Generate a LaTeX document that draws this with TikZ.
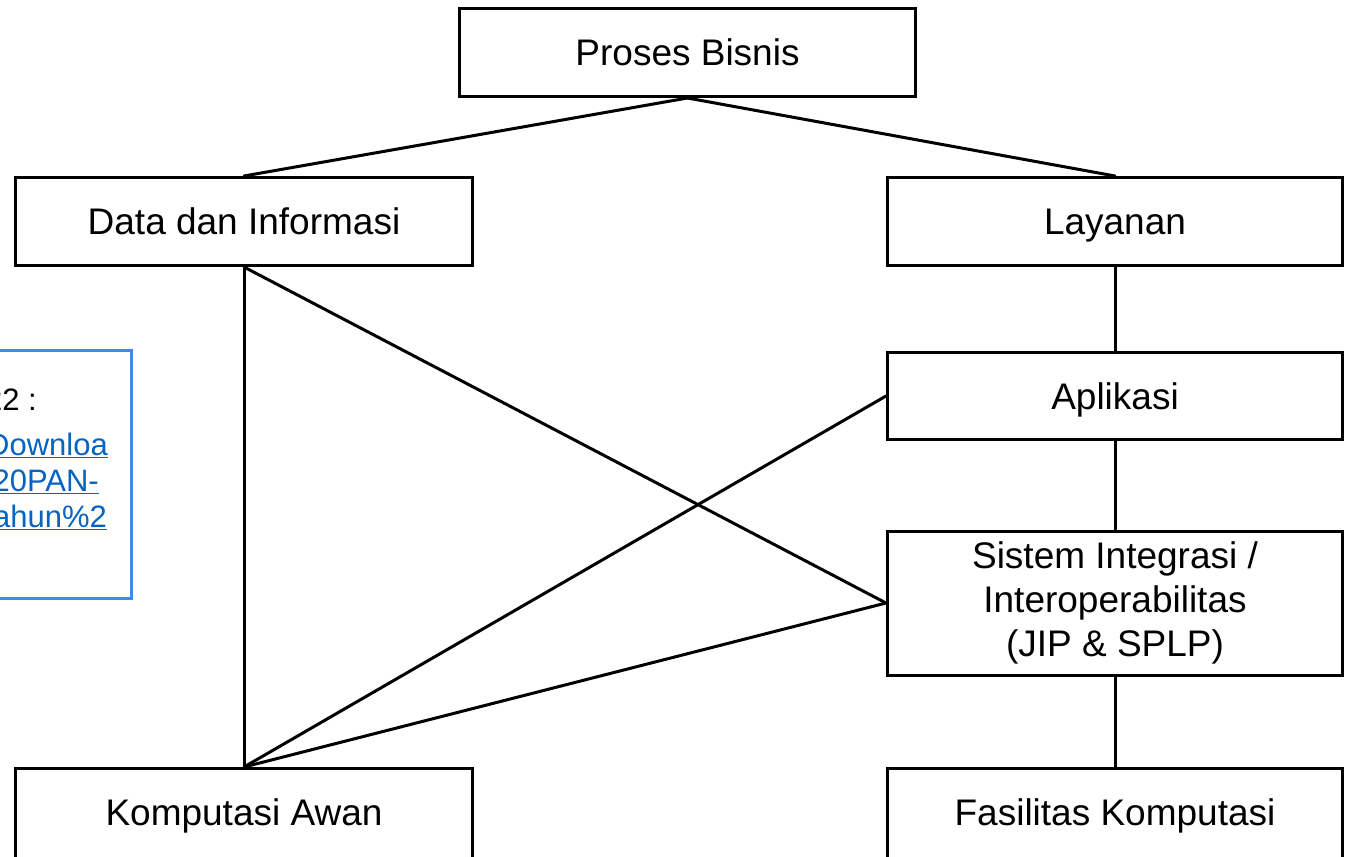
\documentclass[tikz,border=0pt]{standalone}
\usepackage{fontspec}
\setmainfont{Liberation Sans}
\definecolor{linkblue}{RGB}{5,99,193}
\definecolor{noteblue}{RGB}{74,134,232}
\begin{document}
\begin{tikzpicture}[x=1pt,y=-1pt,
  box/.style={draw=black, line width=3pt, rectangle, inner sep=0pt,
    font=\fontsize{37}{44}\selectfont, align=center},
  oneline/.style={text height=34pt, text depth=7.5pt},
  conn/.style={line width=3pt, line cap=round},
  notebox/.style={draw=noteblue, line width=3pt, rectangle, inner sep=0pt},
  notetext/.style={font=\fontsize{31}{36}\selectfont, inner sep=0pt, anchor=base east},
  link/.style={notetext, text=linkblue}]
\useasboundingbox (0,0) rectangle (1345,857);
\clip (0,0) rectangle (1345,857);

% note box (clipped at the left edge)
\node[notebox, minimum width=150pt, minimum height=248pt] (note) at (56.5,474.5) {};
\node[notetext] (n1) at (37,410) {2022 :};
\node[link] (n2) at (108,455) {\underline{Downloa}};
\node[link] (n3) at (99,491) {\underline{20PAN-}};
\node[link] (n4) at (107,527) {\underline{Tahun\%2}};

% boxes
\node[box, oneline, minimum width=456pt, minimum height=88pt] (proses) at (687.5,52.5) {Proses Bisnis};
\node[box, oneline, minimum width=457pt, minimum height=88pt] (data) at (244,221.5) {Data dan Informasi};
\node[box, oneline, minimum width=455pt, minimum height=88pt] (layanan) at (1115,221.5) {Layanan};
\node[box, oneline, minimum width=455pt, minimum height=87pt] (aplikasi) at (1115,396) {Aplikasi};
\node[box, minimum width=455pt, minimum height=144pt] (sistem) at (1115,603) {Sistem Integrasi /\\Interoperabilitas\\(JIP \& SPLP)};
\node[box, minimum width=457pt, minimum height=120pt] (komp) at (244,828.5) {};
\node[box, oneline, draw=none] (kompt) at (244,812.5) {Komputasi Awan};
\node[box, minimum width=455pt, minimum height=120pt] (fasil) at (1115,828.5) {};
\node[box, oneline, draw=none] (fasilt) at (1115,812.5) {Fasilitas Komputasi};

% connectors
\draw[conn] (proses.south) -- (data.north);
\draw[conn] (proses.south) -- (layanan.north);
\draw[conn] (data.south) -- (komp.north);
\draw[conn] (data.south) -- (sistem.west);
\draw[conn] (layanan.south) -- (aplikasi.north);
\draw[conn] (aplikasi.south) -- (sistem.north);
\draw[conn] (sistem.south) -- (fasil.north);
\draw[conn] (aplikasi.west) -- (komp.north);
\draw[conn] (sistem.west) -- (komp.north);
\end{tikzpicture}
\end{document}
